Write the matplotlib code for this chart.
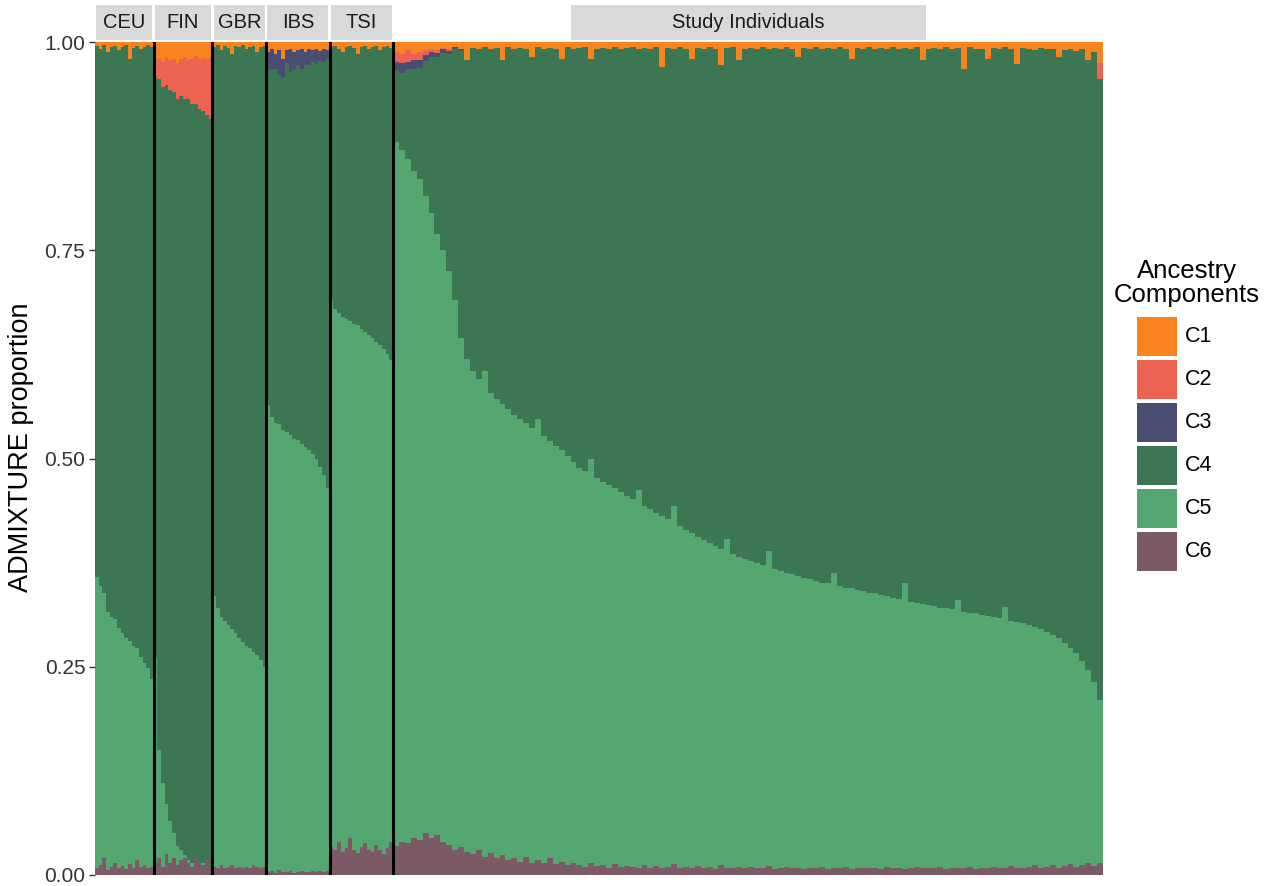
"""Stacked ADMIXTURE proportions for 1000 Genomes reference panels and study individuals."""

import matplotlib

matplotlib.use("Agg")

import matplotlib.pyplot as plt
import numpy as np
from matplotlib.patches import Rectangle

plt.rcParams["font.family"] = ["Liberation Sans", "DejaVu Sans"]

panels = ["CEU", "FIN", "GBR", "IBS", "TSI", "Study Individuals"]
panel_sizes = [99, 99, 91, 107, 107, 1198]
components = ["C1", "C2", "C3", "C4", "C5", "C6"]
colors = ["#F8831F", "#EC6352", "#4A4D72", "#3D7652", "#55A771", "#7B5A66"]

# Per-individual ancestry fractions (grouped), sorted within each panel.
# C4 takes whatever is left so every bar sums to 1.
c1 = {
    "CEU": [0.005, 0.008, 0.004, 0.012, 0.006, 0.005, 0.010, 0.006,
            0.004, 0.020, 0.007, 0.005, 0.008, 0.006, 0.004, 0.006],
    "FIN": [0.022, 0.020, 0.024, 0.018, 0.022, 0.020, 0.025, 0.020,
            0.018, 0.022, 0.020, 0.017, 0.021, 0.019, 0.020, 0.018],
    "GBR": [0.006, 0.004, 0.010, 0.005, 0.007, 0.015, 0.005, 0.006,
            0.004, 0.008, 0.006, 0.005, 0.012, 0.006, 0.005],
    "IBS": [0.012, 0.008, 0.015, 0.010, 0.020, 0.010, 0.008, 0.012, 0.010,
            0.009, 0.012, 0.008, 0.010, 0.009, 0.011, 0.008, 0.010],
    "TSI": [0.006, 0.005, 0.008, 0.012, 0.006, 0.005, 0.007, 0.015, 0.006,
            0.005, 0.008, 0.006, 0.005, 0.010, 0.006, 0.005, 0.007],
    "Study Individuals": [
        0.012, 0.015, 0.010, 0.014, 0.012, 0.010, 0.008, 0.010, 0.007, 0.009,
        0.006, 0.008, 0.022, 0.007, 0.009, 0.006, 0.008, 0.007, 0.022, 0.006,
        0.008, 0.007, 0.009, 0.018, 0.006, 0.008, 0.007, 0.009, 0.020, 0.006,
        0.008, 0.007, 0.006, 0.020, 0.008, 0.007, 0.009, 0.006, 0.008, 0.007,
        0.006, 0.009, 0.007, 0.008, 0.006, 0.030, 0.007, 0.009, 0.006, 0.008,
        0.020, 0.007, 0.008, 0.006, 0.009, 0.028, 0.007, 0.006, 0.022, 0.008,
        0.007, 0.009, 0.006, 0.008, 0.007, 0.009, 0.006, 0.008, 0.018, 0.007,
        0.008, 0.006, 0.009, 0.007, 0.008, 0.006, 0.009, 0.020, 0.007, 0.008,
        0.006, 0.009, 0.007, 0.008, 0.006, 0.009, 0.007, 0.008, 0.006, 0.022,
        0.008, 0.007, 0.009, 0.006, 0.008, 0.007, 0.032, 0.006, 0.008, 0.009,
        0.020, 0.007, 0.008, 0.006, 0.009, 0.026, 0.007, 0.008, 0.010, 0.007,
        0.009, 0.008, 0.018, 0.010, 0.008, 0.011, 0.009, 0.022, 0.012, 0.025,
    ],
}

c2 = {
    "CEU": [0.0] * 16,
    "FIN": [0.020, 0.025, 0.030, 0.034, 0.036, 0.040, 0.043, 0.045,
            0.050, 0.047, 0.055, 0.058, 0.060, 0.064, 0.068, 0.075],
    "GBR": [0.0] * 15,
    "IBS": [0.0] * 17,
    "TSI": [0.0] * 17,
    "Study Individuals": [0.012, 0.010, 0.014, 0.008, 0.010, 0.006, 0.004, 0.003,
                          0.002, 0.002] + [0.0] * 109 + [0.020],
}

c3 = {
    "CEU": [0.0] * 16,
    "FIN": [0.0] * 16,
    "GBR": [0.0] * 15,
    "IBS": [0.020, 0.025, 0.018, 0.030, 0.022, 0.015, 0.028, 0.020, 0.018,
            0.024, 0.016, 0.020, 0.014, 0.018, 0.012, 0.016, 0.010],
    "TSI": [0.0] * 17,
    "Study Individuals": [0.010, 0.012, 0.008, 0.010, 0.009, 0.007, 0.006, 0.005,
                          0.004, 0.003, 0.003, 0.002] + [0.0] * 108,
}

c5 = {
    "CEU": [0.350, 0.335, 0.318, 0.310, 0.300, 0.292, 0.288, 0.280,
            0.278, 0.268, 0.266, 0.255, 0.252, 0.243, 0.240, 0.225],
    "FIN": [0.245, 0.130, 0.100, 0.060, 0.050, 0.030, 0.023, 0.012,
            0.004, 0.003, 0.005, 0.000, 0.000, 0.002, 0.000, 0.000],
    "GBR": [0.325, 0.312, 0.298, 0.296, 0.290, 0.283, 0.282, 0.275,
            0.272, 0.265, 0.264, 0.256, 0.254, 0.250, 0.240],
    "IBS": [0.560, 0.545, 0.540, 0.535, 0.530, 0.528, 0.523, 0.520, 0.518,
            0.513, 0.510, 0.506, 0.500, 0.496, 0.485, 0.476, 0.460],
    "TSI": [0.655, 0.650, 0.635, 0.642, 0.636, 0.620, 0.632, 0.634, 0.622,
            0.614, 0.618, 0.617, 0.604, 0.606, 0.607, 0.593, 0.578],
    "Study Individuals": [
        0.845, 0.830, 0.822, 0.800, 0.793, 0.765, 0.751, 0.722, 0.710, 0.689,
        0.660, 0.611, 0.592, 0.580, 0.565, 0.583, 0.553, 0.552, 0.542, 0.542,
        0.532, 0.532, 0.521, 0.522, 0.529, 0.513, 0.501, 0.502, 0.494, 0.491,
        0.482, 0.477, 0.475, 0.485, 0.465, 0.460, 0.459, 0.451, 0.450, 0.444,
        0.441, 0.454, 0.431, 0.430, 0.424, 0.423, 0.417, 0.430, 0.410, 0.404,
        0.402, 0.395, 0.393, 0.388, 0.388, 0.379, 0.394, 0.377, 0.372, 0.370,
        0.367, 0.366, 0.363, 0.378, 0.360, 0.356, 0.353, 0.353, 0.350, 0.350,
        0.346, 0.345, 0.341, 0.343, 0.354, 0.339, 0.335, 0.337, 0.333, 0.333,
        0.331, 0.329, 0.329, 0.325, 0.325, 0.322, 0.343, 0.320, 0.317, 0.317,
        0.315, 0.315, 0.311, 0.313, 0.310, 0.322, 0.308, 0.305, 0.307, 0.303,
        0.303, 0.300, 0.299, 0.314, 0.294, 0.295, 0.294, 0.290, 0.286, 0.286,
        0.282, 0.276, 0.275, 0.268, 0.260, 0.256, 0.245, 0.232, 0.221, 0.195,
    ],
}

c6 = {
    "CEU": [0.008, 0.012, 0.020, 0.006, 0.010, 0.015, 0.008, 0.011,
            0.007, 0.013, 0.009, 0.018, 0.010, 0.012, 0.008, 0.010],
    "FIN": [0.015, 0.020, 0.010, 0.025, 0.015, 0.020, 0.012, 0.018,
            0.020, 0.015, 0.010, 0.020, 0.015, 0.012, 0.018, 0.010],
    "GBR": [0.010, 0.008, 0.012, 0.009, 0.010, 0.012, 0.008, 0.010,
            0.008, 0.010, 0.008, 0.012, 0.010, 0.008, 0.010],
    "IBS": [0.004, 0.005, 0.003, 0.006, 0.004, 0.004, 0.005, 0.003, 0.004,
            0.005, 0.004, 0.004, 0.005, 0.004, 0.005, 0.004, 0.005],
    "TSI": [0.035, 0.030, 0.040, 0.028, 0.032, 0.045, 0.030, 0.026, 0.034,
            0.038, 0.030, 0.028, 0.036, 0.030, 0.025, 0.033, 0.040],
    "Study Individuals": [
        0.035, 0.040, 0.038, 0.045, 0.042, 0.050, 0.044, 0.048, 0.040, 0.036,
        0.030, 0.034, 0.028, 0.025, 0.030, 0.022, 0.026, 0.020, 0.024, 0.018,
        0.020, 0.016, 0.022, 0.015, 0.018, 0.014, 0.020, 0.013, 0.016, 0.012,
        0.014, 0.012, 0.010, 0.015, 0.011, 0.012, 0.009, 0.013, 0.010, 0.011,
        0.010, 0.008, 0.012, 0.009, 0.011, 0.008, 0.010, 0.013, 0.009, 0.010,
        0.008, 0.011, 0.009, 0.010, 0.007, 0.012, 0.009, 0.008, 0.010, 0.009,
        0.010, 0.008, 0.009, 0.011, 0.007, 0.009, 0.010, 0.008, 0.009, 0.007,
        0.009, 0.008, 0.010, 0.007, 0.009, 0.008, 0.010, 0.007, 0.009, 0.008,
        0.008, 0.009, 0.007, 0.010, 0.008, 0.009, 0.007, 0.008, 0.010, 0.008,
        0.009, 0.008, 0.010, 0.007, 0.009, 0.008, 0.008, 0.010, 0.007, 0.009,
        0.008, 0.010, 0.009, 0.008, 0.011, 0.009, 0.008, 0.010, 0.012, 0.009,
        0.010, 0.012, 0.009, 0.011, 0.013, 0.010, 0.012, 0.014, 0.011, 0.015,
    ],
}

W, H = 1271, 886


def px_box(x0, y0, w, h):
    """Pixel box (top-left origin) -> figure-fraction rectangle."""
    return (x0 / W, 1 - (y0 + h) / H, w / W, h / H)


fig = plt.figure(figsize=(W / 100, H / 100), dpi=100)
ax = fig.add_axes(px_box(95, 42, 1008, 833))
# the dominant component as backdrop, so rounding seams between bars don't show white
ax.set_facecolor(colors[components.index("C4")])

start = 0.0
bounds = []
for panel, size in zip(panels, panel_sizes):
    shares = {
        "C1": np.array(c1[panel]),
        "C2": np.array(c2[panel]),
        "C3": np.array(c3[panel]),
        "C5": np.array(c5[panel]),
        "C6": np.array(c6[panel]),
    }
    shares["C4"] = 1 - sum(shares.values())
    n = len(shares["C5"])
    width = size / n
    x = start + (np.arange(n) + 0.5) * width

    bottom = np.zeros(n)
    for comp in ["C6", "C5", "C4", "C3", "C2", "C1"]:
        ax.bar(x, shares[comp], width=width, bottom=bottom,
               color=colors[components.index(comp)], linewidth=0,
               antialiased=False)
        bottom += shares[comp]

    bounds.append((start, start + size))
    start += size

total = start
for left, _ in bounds[1:]:
    ax.axvline(left, color="black", linewidth=2.2)

# facet strips
strip_y0, strip_h = 1 + 2 / 833, 35 / 833
pad = total * 1.2 / 1008
for panel, (left, right) in zip(panels, bounds):
    if panel == "Study Individuals":
        mid, half = (left + right) / 2, (right - left) * 0.25
        sx0, sx1 = mid - half, mid + half
    else:
        sx0, sx1 = left + pad, right - pad
    ax.add_patch(Rectangle((sx0, strip_y0), sx1 - sx0, strip_h,
                           transform=ax.get_xaxis_transform(), clip_on=False,
                           facecolor="#D9D9D9", edgecolor="none"))
    ax.text((sx0 + sx1) / 2, strip_y0 + strip_h / 2, panel,
            transform=ax.get_xaxis_transform(), ha="center", va="center",
            fontsize=14.5, color="#1A1A1A")

ax.set_xlim(0, total)
ax.set_ylim(0, 1)
ax.set_yticks([0, 0.25, 0.5, 0.75, 1.0])
ax.set_yticklabels(["0.00", "0.25", "0.50", "0.75", "1.00"])
ax.set_xticks([])
ax.tick_params(axis="y", length=4, width=1, color="#333333", pad=3,
               labelsize=15, labelcolor="#333333")
for spine in ax.spines.values():
    spine.set_visible(False)
ax.set_ylabel("ADMIXTURE proportion", fontsize=19.5)
ax.yaxis.set_label_coords(-0.0605, 0.514)

# legend
fig.text(1187 / W, 1 - 283 / H, "Ancestry\nComponents", ha="center", va="center",
         fontsize=18.5, linespacing=1.0)
for i, (comp, col) in enumerate(zip(components, colors)):
    top = 317 + 43 * i
    fig.add_artist(Rectangle(px_box(1137, top, 40, 39)[:2], 40 / W, 39 / H,
                             transform=fig.transFigure, facecolor=col,
                             edgecolor="none"))
    fig.text(1185 / W, 1 - (top + 19.5) / H, comp, ha="left", va="center",
             fontsize=15.5)

fig.savefig("out.png", dpi=100)
